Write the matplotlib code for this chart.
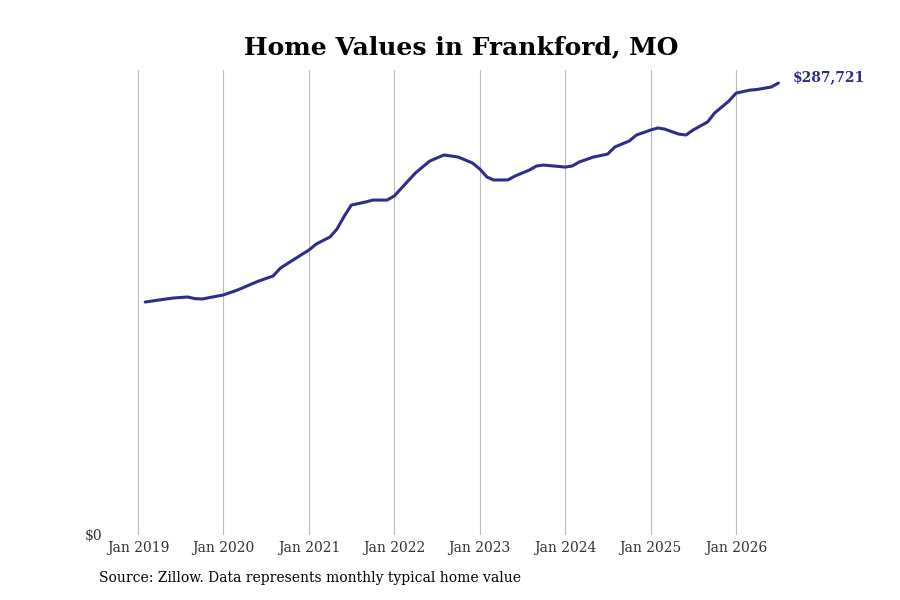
import matplotlib
matplotlib.use("Agg")
import matplotlib.pyplot as plt
import pandas as pd

# monthly typical home value
months = ["2019-02", "2019-04", "2019-06", "2019-08", "2019-09", "2019-10", "2020-01", "2020-03",
          "2020-05", "2020-06", "2020-08", "2020-09", "2020-11", "2021-01", "2021-02", "2021-04",
          "2021-05", "2021-06", "2021-07", "2021-09", "2021-10", "2021-12", "2022-01", "2022-02",
          "2022-04", "2022-06", "2022-08", "2022-10", "2022-12", "2023-01", "2023-02", "2023-03",
          "2023-05", "2023-06", "2023-08", "2023-09", "2023-10", "2024-01", "2024-02", "2024-03",
          "2024-05", "2024-07", "2024-08", "2024-10", "2024-11", "2025-01", "2025-02", "2025-03",
          "2025-05", "2025-06", "2025-07", "2025-09", "2025-10", "2025-12", "2026-01", "2026-03",
          "2026-04", "2026-06", "2026-07"]
values = [148300, 149600, 150850, 151500, 150500, 150200, 152800, 155900,
          159800, 161700, 164900, 169900, 175700, 181400, 185200, 189700,
          194800, 203000, 210000, 212000, 213200, 213200, 215800, 220900,
          230400, 238000, 241900, 240600, 236800, 233000, 227900, 226000,
          226000, 228500, 232300, 234900, 235500, 234200, 234900, 237400,
          240600, 242500, 247000, 250800, 254600, 257800, 259100, 258400,
          255200, 254600, 257800, 262900, 268600, 276200, 281300, 283200,
          283600, 285200, 287721]
tick_labels = ["Jan 2019", "Jan 2020", "Jan 2021", "Jan 2022", "Jan 2023", "Jan 2024", "Jan 2025", "Jan 2026"]

plt.rcParams['font.family'] = ['DejaVu Serif']
color = "#2e2d8c"

dates = pd.to_datetime(months)
fig = plt.figure(figsize=(9, 6), dpi=100)
ax = fig.add_axes([108 / 900, 65 / 600, 684 / 900, 465 / 600])
ax.plot(dates, values, color=color, linewidth=2.2, solid_capstyle='round', solid_joinstyle='round')

ticks = pd.to_datetime([t.replace("Jan ", "") + "-01-01" for t in tick_labels])
ax.set_xticks(ticks)
ax.set_xticklabels(tick_labels, fontsize=10, color="#333333")
ax.set_xlim(ticks[0] - pd.Timedelta(days=128), ticks[0] + pd.Timedelta(days=int(654 / 85.43 * 365.25)))
ax.set_ylim(0, 296000)
ax.set_yticks([0])
ax.set_yticklabels(["$0"], fontsize=10, color="#333333")
ax.grid(axis='x', color="#bbbbbb", linewidth=0.8)
ax.tick_params(length=0, pad=4)
for s in ax.spines.values():
    s.set_visible(False)

ax.annotate(f"${values[-1]:,}", (dates[-1], values[-1]), xytext=(10, 4), textcoords='offset points',
            color=color, fontsize=10, fontweight='bold', va='center')
fig.text(0.513, 0.91, "Home Values in Frankford, MO", ha='center', fontsize=18, fontweight='bold')
fig.text(99 / 900, 18 / 600, "Source: Zillow. Data represents monthly typical home value", fontsize=10)

fig.savefig("out.png", dpi=100)
